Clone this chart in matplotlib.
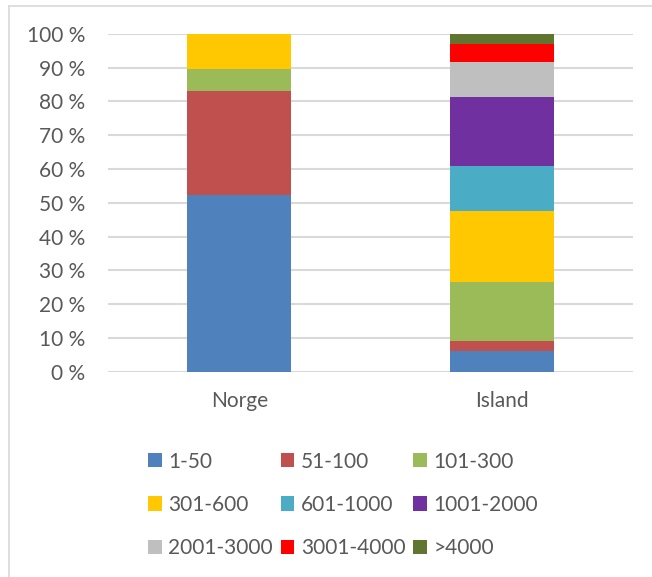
import matplotlib.pyplot as plt
from matplotlib.patches import Patch
from matplotlib.lines import Line2D
from matplotlib.ticker import PercentFormatter

countries = ['Norge', 'Island']
groups = ['1-50', '51-100', '101-300', '301-600', '601-1000',
          '1001-2000', '2001-3000', '3001-4000', '>4000']
colors = ['#4F81BD', '#C0504D', '#9BBB59', '#FFC800', '#4BACC6',
          '#7030A0', '#BFBFBF', '#FF0000', '#5F7530']

# share (%) per size group, Norge / Island
norge = [52.3, 30.9, 6.4, 10.4, 0, 0, 0, 0, 0]
island = [6.1, 3.0, 17.3, 21.2, 13.4, 20.4, 10.4, 5.3, 2.9]

plt.rcParams['font.family'] = ['Lato', 'DejaVu Sans']
text_col = '#595959'
grid_col = '#D9D9D9'

fig = plt.figure(figsize=(6.52, 5.77), dpi=100)
ax = fig.add_axes([0.1656, 0.3561, 0.8053, 0.585])

x = [0, 1]
bottoms = [0, 0]
for i, g in enumerate(groups):
    vals = [norge[i], island[i]]
    ax.bar(x, vals, width=0.396, bottom=bottoms, color=colors[i], label=g, zorder=3)
    bottoms = [b + v for b, v in zip(bottoms, vals)]

ax.set_xlim(-0.5, 1.5)
ax.set_ylim(0, 100)
ax.set_yticks(range(0, 101, 10))
ax.yaxis.set_major_formatter(PercentFormatter(decimals=0, symbol=' %'))
ax.set_xticks(x)
ax.set_xticklabels(countries)
ax.tick_params(length=0, labelsize=15, colors=text_col)
ax.tick_params(axis='y', pad=16.5)
ax.tick_params(axis='x', pad=14)
ax.grid(axis='y', color=grid_col, lw=1.5, zorder=0)
for s in ax.spines.values():
    s.set_visible(False)

# legend row-wise like Excel
handles = [Patch(facecolor=c, edgecolor='none') for c in colors]
order = [0, 3, 6, 1, 4, 7, 2, 5, 8]
fig.legend([handles[i] for i in order], [groups[i] for i in order],
           ncol=3, loc='center', bbox_to_anchor=(0.526, 0.125), frameon=False,
           fontsize=15, labelcolor=text_col, handlelength=0.67, handleheight=0.67,
           handletextpad=0.3, columnspacing=0.38, labelspacing=1.12)

# chart border (left and top visible)
fig.add_artist(Line2D([8.5 / 652, 8.5 / 652], [0, 1 - 5.5 / 577], color=grid_col, lw=1.2))
fig.add_artist(Line2D([8.5 / 652, 1], [1 - 5.5 / 577, 1 - 5.5 / 577], color=grid_col, lw=1.2))

fig.savefig('out.png', dpi=100)
